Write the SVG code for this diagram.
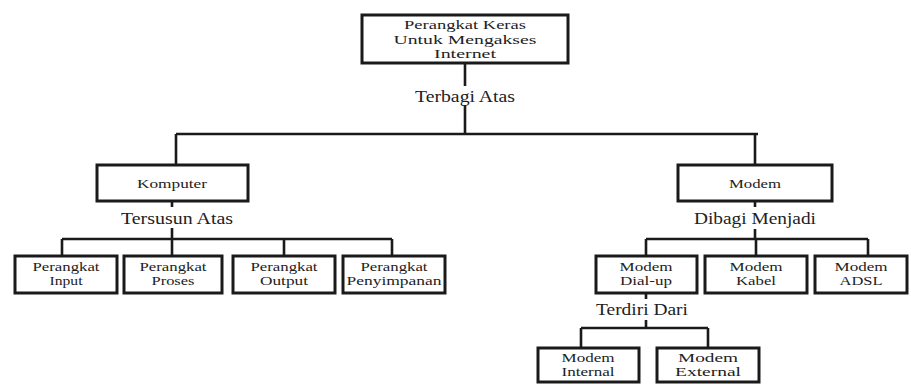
<svg xmlns="http://www.w3.org/2000/svg" width="911" height="384" viewBox="0 0 911 384">
<style>
.box{fill:#fff;stroke:#1a1a1a;stroke-width:3}
.ln{fill:none;stroke:#1a1a1a;stroke-width:2.6}
text{font-family:"Liberation Serif","Times New Roman",serif;fill:#222;text-anchor:middle}
.t{font-size:12.5px}
.b{font-size:12px}
.c{font-size:16.5px}
</style>
<rect width="911" height="384" fill="#fff"/>
<g id="connectors">
<path class="ln" d="M465 63V86M465 105V134M176 134H758M176 134V165M755 134V165"/>
<path class="ln" d="M172 201V207M172 228V239M62 239H392M62 239V256M172 239V256M284 239V256M392 239V256"/>
<path class="ln" d="M755 201V207M755 229V239M646 239H868M646 239V256M756 239V256M868 239V256"/>
<path class="ln" d="M646 293V299M646 320V328M581 328H708M581 328V348M708 328V348"/>
<text class="c" x="465" y="102" textLength="100" lengthAdjust="spacingAndGlyphs">Terbagi Atas</text>
<text class="c" x="177" y="224" textLength="112" lengthAdjust="spacingAndGlyphs">Tersusun Atas</text>
<text class="c" x="755" y="224" textLength="122" lengthAdjust="spacingAndGlyphs">Dibagi Menjadi</text>
<text class="c" x="642" y="315" textLength="92" lengthAdjust="spacingAndGlyphs">Terdiri Dari</text>
</g>
<g id="root">
<rect class="box" x="362" y="15" width="206" height="48"/>
<text class="t" x="465" y="29" textLength="122" lengthAdjust="spacingAndGlyphs">Perangkat Keras</text>
<text class="t" x="465" y="44" textLength="143" lengthAdjust="spacingAndGlyphs">Untuk Mengakses</text>
<text class="t" x="465" y="58" textLength="62" lengthAdjust="spacingAndGlyphs">Internet</text>
</g>
<g id="komputer">
<rect class="box" x="97" y="165" width="151" height="36"/>
<text class="b" x="172" y="188" textLength="70" lengthAdjust="spacingAndGlyphs">Komputer</text>
</g>
<g id="modem">
<rect class="box" x="678" y="165" width="154" height="36"/>
<text class="b" x="755" y="188" textLength="52" lengthAdjust="spacingAndGlyphs">Modem</text>
</g>
<g id="input">
<rect class="box" x="15" y="256" width="102" height="37"/>
<text class="b" x="66" y="271" textLength="67" lengthAdjust="spacingAndGlyphs">Perangkat</text>
<text class="b" x="66" y="285" textLength="33" lengthAdjust="spacingAndGlyphs">Input</text>
</g>
<g id="proses">
<rect class="box" x="124" y="256" width="98" height="37"/>
<text class="b" x="173" y="271" textLength="67" lengthAdjust="spacingAndGlyphs">Perangkat</text>
<text class="b" x="173" y="285" textLength="43" lengthAdjust="spacingAndGlyphs">Proses</text>
</g>
<g id="output">
<rect class="box" x="233" y="256" width="102" height="37"/>
<text class="b" x="284" y="271" textLength="67" lengthAdjust="spacingAndGlyphs">Perangkat</text>
<text class="b" x="284" y="285" textLength="48" lengthAdjust="spacingAndGlyphs">Output</text>
</g>
<g id="penyimpanan">
<rect class="box" x="343" y="256" width="102" height="37"/>
<text class="b" x="394" y="271" textLength="67" lengthAdjust="spacingAndGlyphs">Perangkat</text>
<text class="b" x="394" y="285" textLength="95" lengthAdjust="spacingAndGlyphs">Penyimpanan</text>
</g>
<g id="dialup">
<rect class="box" x="596" y="256" width="101" height="37"/>
<text class="b" x="646" y="271" textLength="53" lengthAdjust="spacingAndGlyphs">Modem</text>
<text class="b" x="646" y="285" textLength="52" lengthAdjust="spacingAndGlyphs">Dial-up</text>
</g>
<g id="kabel">
<rect class="box" x="705" y="256" width="102" height="37"/>
<text class="b" x="756" y="271" textLength="53" lengthAdjust="spacingAndGlyphs">Modem</text>
<text class="b" x="756" y="285" textLength="40" lengthAdjust="spacingAndGlyphs">Kabel</text>
</g>
<g id="adsl">
<rect class="box" x="815" y="256" width="92" height="37"/>
<text class="b" x="861" y="271" textLength="53" lengthAdjust="spacingAndGlyphs">Modem</text>
<text class="b" x="861" y="285" textLength="43" lengthAdjust="spacingAndGlyphs">ADSL</text>
</g>
<g id="internal">
<rect class="box" x="538" y="348" width="101" height="34"/>
<text class="b" x="588" y="362" textLength="53" lengthAdjust="spacingAndGlyphs">Modem</text>
<text class="b" x="588" y="376" textLength="53" lengthAdjust="spacingAndGlyphs">Internal</text>
</g>
<g id="external">
<rect class="box" x="657" y="348" width="102" height="34"/>
<text class="b" x="708" y="362" textLength="60" lengthAdjust="spacingAndGlyphs">Modem</text>
<text class="b" x="708" y="376" textLength="66" lengthAdjust="spacingAndGlyphs">External</text>
</g>
</svg>
